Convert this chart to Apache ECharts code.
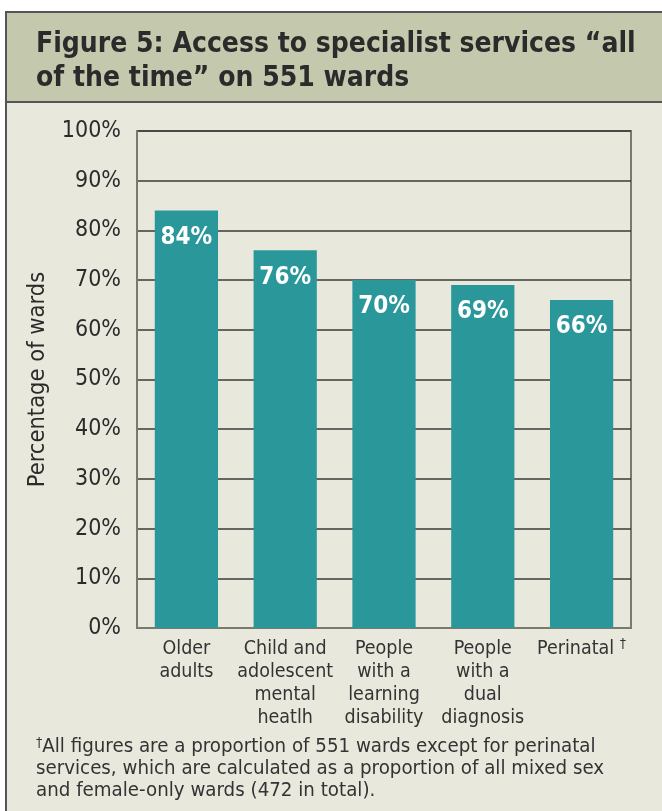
<!DOCTYPE html>
<html>
<head>
<meta charset="utf-8">
<script src="https://cdn.jsdelivr.net/npm/echarts@6/dist/echarts.min.js"></script>
<style>
  html, body { margin: 0; padding: 0; background: #ffffff; }
  #chart { width: 662px; height: 811px; }
</style>
</head>
<body>
<div id="chart"></div>
<script>
// Ward access data
var categories = [
  'Older\nadults',
  'Child and\nadolescent\nmental\nheatlh',
  'People\nwith a\nlearning\ndisability',
  'People\nwith a\ndual\ndiagnosis',
  'Perinatal'
];
var values = [84, 76, 70, 69, 66];
var yTicks = [0, 10, 20, 30, 40, 50, 60, 70, 80, 90, 100];

var FONT = '"DejaVu Sans Condensed", "DejaVu Sans", sans-serif';
var TEAL = '#2a979b';

var chart = echarts.init(document.getElementById('chart'), null, { renderer: 'canvas' });

chart.setOption({
  backgroundColor: '#ffffff',
  animation: false,
  graphic: [
    // body panel
    { type: 'rect', z: -10, shape: { x: 6, y: 12, width: 660, height: 805 },
      style: { fill: '#e8e8dd', stroke: '#555', lineWidth: 2 } },
    // title band
    { type: 'rect', z: -9, shape: { x: 6, y: 12, width: 660, height: 90 },
      style: { fill: '#c4c9ae', stroke: '#555', lineWidth: 2 } },
    { type: 'text', left: 36, top: 28, z: 5,
      style: { text: 'Figure 5: Access to specialist services \u201call\nof the time\u201d on 551 wards',
        font: 'bold 28px ' + FONT, fill: '#2b2b2b', lineHeight: 34 } },
    // footnote
    { type: 'text', left: 36, top: 736, z: 5,
      style: { text: '{s|\u2020}All figures are a proportion of 551 wards except for perinatal\nservices, which are calculated as a proportion of all mixed sex\nand female-only wards (472 in total).',
        font: '20.3px ' + FONT, fill: '#333', lineHeight: 22,
        rich: { s: { fontSize: 14, verticalAlign: 'top', padding: [0, 0, 8, 0], fill: '#333', fontFamily: FONT } } } }
  ],
  grid: { left: 137, right: 31, top: 131, bottom: 183, show: true, borderColor: '#7a7a72', borderWidth: 2, backgroundColor: 'transparent' },
  xAxis: {
    type: 'category',
    data: categories,
    axisTick: { show: false },
    axisLine: { lineStyle: { color: '#7a7a72', width: 2 } },
    axisLabel: {
      interval: 0, margin: 9, color: '#333',
      fontFamily: FONT, fontSize: 19.5, lineHeight: 23,
      formatter: function (v) { return v === 'Perinatal' ? 'Perinatal {d|\u2020}' : v; },
      rich: { d: { fontSize: 14, verticalAlign: 'top', padding: [0, 0, 10, 0], color: '#333', fontFamily: FONT } }
    }
  },
  yAxis: {
    type: 'value', min: 0, max: 100, interval: 10,
    name: 'Percentage of wards', nameLocation: 'middle', nameGap: 87, nameRotate: 90,
    nameTextStyle: { color: '#2b2b2b', fontFamily: FONT, fontSize: 23.5 },
    axisLine: { show: true, lineStyle: { color: '#7a7a72', width: 2 } },
    axisTick: { show: false },
    splitLine: { lineStyle: { color: '#3a3a38', width: 1.5 } },
    axisLabel: {
      color: '#2b2b2b', fontFamily: FONT, fontSize: 23, margin: 16,
      formatter: function (v) { return yTicks.indexOf(v) >= 0 ? v + '%' : ''; }
    }
  },
  series: [{
    type: 'bar',
    data: values,
    barWidth: '64%',
    itemStyle: { color: TEAL },
    z: 3,
    label: {
      show: true, position: 'insideTop', distance: 15,
      color: '#ffffff', fontFamily: FONT, fontWeight: 'bold', fontSize: 24,
      formatter: '{c}%'
    }
  }]
});
</script>
</body>
</html>
